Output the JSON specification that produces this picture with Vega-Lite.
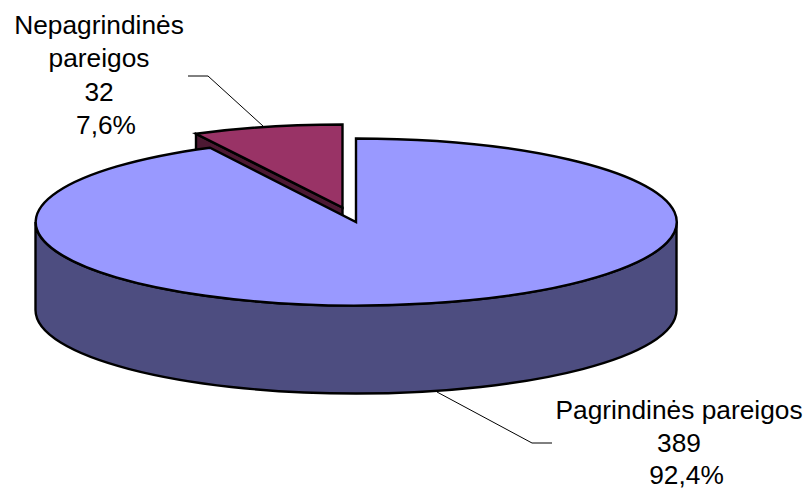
{"$schema":"https://vega.github.io/schema/vega-lite/v6.json","width":808,"height":489,"autosize":{"type":"none"},"padding":0,"background":"white","config":{"view":{"stroke":null},"text":{"font":"Liberation Sans","fontSize":26.3,"color":"#000000","align":"center","baseline":"alphabetic"}},"data":{"values":[{"category":"Pagrindinės pareigos","count":389,"share":"92,4%"},{"category":"Nepagrindinės pareigos","count":32,"share":"7,6%"}]},"transform":[],"layer":[
{"transform":[{"filter":"datum.count==32"}],"mark":{"type":"point","shape":"M0,0 L0,88 L-146.5,14.5 L-146.5,-73.5 Z","size":4,"filled":true,"fill":"#4d1933","stroke":"#000000","strokeWidth":2.4,"opacity":1},"encoding":{"x":{"datum":342.5,"type":"quantitative","scale":{"domain":[0,808],"nice":false,"zero":false},"axis":null},"y":{"datum":207.5,"type":"quantitative","scale":{"domain":[489,0],"nice":false,"zero":false},"axis":null}}},
{"transform":[{"filter":"datum.count==32"}],"mark":{"type":"point","shape":"M0,0 L0,-83 A320.5,83 0 0 0 -146.5,-73.8 Z","size":4,"filled":true,"fill":"#993366","stroke":"#000000","strokeWidth":2.4,"opacity":1},"encoding":{"x":{"datum":342.5,"type":"quantitative"},"y":{"datum":207.5,"type":"quantitative"}}},
{"transform":[{"filter":"datum.count==389"}],"mark":{"type":"point","shape":"M-320.5,0 A320.5,83.5 0 0 0 320.5,0 L320.5,88 A320.5,83.5 0 0 1 -320.5,88 Z","size":4,"filled":true,"fill":"#4d4d80","stroke":"#000000","strokeWidth":2.4,"opacity":1},"encoding":{"x":{"datum":356,"type":"quantitative"},"y":{"datum":222,"type":"quantitative"}}},
{"transform":[{"filter":"datum.count==389"}],"mark":{"type":"point","shape":"M0,0 L0,-83.5 A320.5,83.5 0 1 1 -146,-74.3 Z","size":4,"filled":true,"fill":"#9999ff","stroke":"#000000","strokeWidth":2.4,"opacity":1},"encoding":{"x":{"datum":356,"type":"quantitative"},"y":{"datum":222,"type":"quantitative"}}},
{"transform":[{"filter":"datum.count==32"}],"mark":{"type":"rule","color":"#000000","strokeWidth":1},"encoding":{"x":{"datum":188,"type":"quantitative"},"x2":{"datum":208},"y":{"datum":76,"type":"quantitative"},"y2":{"datum":76}}},
{"transform":[{"filter":"datum.count==32"}],"mark":{"type":"rule","color":"#000000","strokeWidth":1},"encoding":{"x":{"datum":208,"type":"quantitative"},"x2":{"datum":263},"y":{"datum":76,"type":"quantitative"},"y2":{"datum":126}}},
{"transform":[{"filter":"datum.count==389"}],"mark":{"type":"rule","color":"#000000","strokeWidth":1},"encoding":{"x":{"datum":437,"type":"quantitative"},"x2":{"datum":532},"y":{"datum":392,"type":"quantitative"},"y2":{"datum":443}}},
{"transform":[{"filter":"datum.count==389"}],"mark":{"type":"rule","color":"#000000","strokeWidth":1},"encoding":{"x":{"datum":532,"type":"quantitative"},"x2":{"datum":552},"y":{"datum":443,"type":"quantitative"},"y2":{"datum":443}}},
{"transform":[{"filter":"datum.count==32"}],"mark":{"type":"text","lineBreak":" ","lineHeight":33.3},"encoding":{"x":{"datum":99,"type":"quantitative"},"y":{"datum":34,"type":"quantitative"},"text":{"field":"category"}}},
{"transform":[{"filter":"datum.count==32"}],"mark":{"type":"text"},"encoding":{"x":{"datum":99,"type":"quantitative"},"y":{"datum":101,"type":"quantitative"},"text":{"field":"count"}}},
{"transform":[{"filter":"datum.count==32"}],"mark":{"type":"text"},"encoding":{"x":{"datum":106,"type":"quantitative"},"y":{"datum":134,"type":"quantitative"},"text":{"field":"share"}}},
{"transform":[{"filter":"datum.count==389"}],"mark":{"type":"text"},"encoding":{"x":{"datum":679,"type":"quantitative"},"y":{"datum":419,"type":"quantitative"},"text":{"field":"category"}}},
{"transform":[{"filter":"datum.count==389"}],"mark":{"type":"text"},"encoding":{"x":{"datum":679,"type":"quantitative"},"y":{"datum":452,"type":"quantitative"},"text":{"field":"count"}}},
{"transform":[{"filter":"datum.count==389"}],"mark":{"type":"text"},"encoding":{"x":{"datum":686.5,"type":"quantitative"},"y":{"datum":483.5,"type":"quantitative"},"text":{"field":"share"}}}
]}
